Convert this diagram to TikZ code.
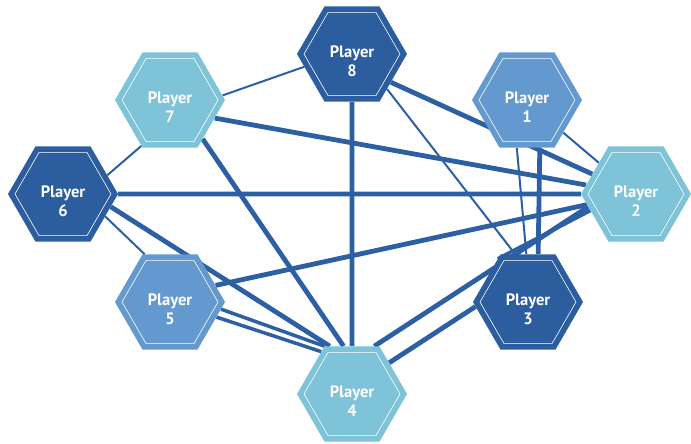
\documentclass[tikz,border=0pt]{standalone}
\usepackage{fontspec}
\setmainfont{PT Sans}
\usetikzlibrary{shapes.geometric,backgrounds}
\definecolor{darkhex}{HTML}{2B5D9F}
\definecolor{midhex}{HTML}{6399CE}
\definecolor{lighthex}{HTML}{7FC3D8}
\definecolor{linkblue}{HTML}{2C5FA3}
\newcommand{\playertext}[1]{\rule{0pt}{26pt}Player\\#1}

\tikzset{
  hexplayer/.style={regular polygon, regular polygon sides=6, minimum size=110pt,
    inner sep=0pt, fill=#1, text=white, align=center,
    font=\bfseries\fontsize{16.5}{19}\selectfont,
    path picture={\draw[white,line width=0.6pt]
      ([shift={(0:48pt)}]path picture bounding box.center)
      \foreach \a in {60,120,...,300}{-- ([shift={(\a:48pt)}]path picture bounding box.center)} -- cycle;}},
  thicklink/.style={linkblue, line width=4.8pt},
  midlink/.style={linkblue, line width=3.5pt},
  thinlink/.style={linkblue, line width=2pt}
}

\begin{document}
\begin{tikzpicture}[x=1pt,y=-1pt]
\useasboundingbox (0,0) rectangle (691,444);

\node[hexplayer=darkhex] (p8) at (352,54) {\playertext{8}};
\node[hexplayer=lighthex] (p7) at (170,100) {\playertext{7}};
\node[hexplayer=midhex] (p1) at (527,100) {\playertext{1}};
\node[hexplayer=darkhex] (p6) at (63,194) {\playertext{6}};
\node[hexplayer=lighthex] (p2) at (636,194) {\playertext{2}};
\node[hexplayer=midhex] (p5) at (170,302) {\playertext{5}};
\node[hexplayer=darkhex] (p3) at (528,302) {\playertext{3}};
\node[hexplayer=lighthex] (p4) at (352,394) {\playertext{4}};

\begin{scope}[on background layer]
% links of 7 and 8
\draw[thinlink] (p7.5) -- (p8.195);
\draw[thicklink] (p7.-22) -- (p2);
\draw[thicklink] (p7.-50) -- (p4.100);
\draw[thinlink] (p6.23) -- (p7.-122);
\draw[thicklink] (p8.-36) -- (p2);
\draw[thinlink] (p8.-45) -- (p3.105);
\draw[thicklink] (p8) -- (p4);
% links of 6 and 5
\draw[thicklink] (p6) -- (p2);
\draw[thicklink] (p6.-15) -- (p4.115);
\draw[thinlink] (p6.-28) -- (p5.118);
\draw[thicklink] (p5.20) -- (p2);
\draw[midlink] (p5.-8) -- (p4.120);
\draw[midlink] (p5.-18) -- (p4.126);
% links of 1, 2 and 3
\draw[thinlink] (p1.-42) -- (p2.140);
\draw[thicklink] (p1.-75) -- (p3.78);
\draw[thinlink] (p1.-102) -- (p3.92);
\draw[thicklink] (p4.65) -- (p2.195);
\draw[thicklink] (p4.40) -- (p3.185);
\draw[midlink] (p3.125) -- (p2.200);
\end{scope}
\end{tikzpicture}
\end{document}
